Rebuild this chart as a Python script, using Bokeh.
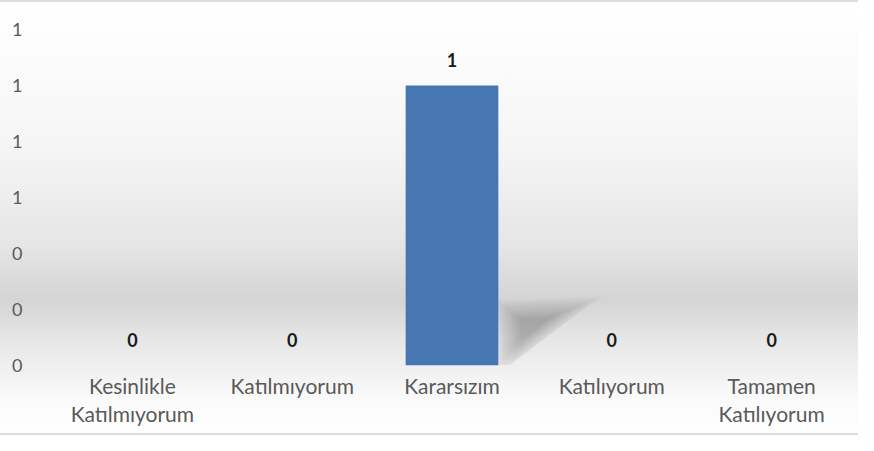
from bokeh.plotting import figure
from bokeh.models import ColumnDataSource, Range1d, FactorRange, FixedTicker, NumeralTickFormatter, LabelSet, CategoricalAxis
from bokeh.core.properties import value
from bokeh.embed import file_html
from bokeh.resources import INLINE

categories = ["Kesinlikle Katılmıyorum", "Katılmıyorum", "Kararsızım", "Katılıyorum", "Tamamen Katılıyorum"]
label_line1 = ["Kesinlikle", "Katılmıyorum", "Kararsızım", "Katılıyorum", "Tamamen"]
label_line2 = ["Katılmıyorum", " ", "  ", "   ", "Katılıyorum"]
values = [0, 0, 1, 0, 0]
y_ticks = [0, 0.2, 0.4, 0.6, 0.8, 1.0, 1.2]

src = ColumnDataSource(dict(cat=categories, val=values, lab=[str(v) for v in values]))

p = figure(width=858, height=435, x_range=FactorRange(*categories), y_range=Range1d(0, 1.2),
           output_backend="svg", toolbar_location=None,
           min_border_left=52, min_border_right=7, min_border_top=27, min_border_bottom=72)
p.styles = {"background": "linear-gradient(to bottom, #ffffff 0%, #fcfcfc 12%, #f5f5f5 34%, #e5e5e5 57%, #d4d4d4 69%, #e6e6e6 78%, #fafafa 92%, #ffffff 100%)",
            "border-top": "2px solid #dcdcdc", "border-bottom": "2px solid #dcdcdc"}
p.background_fill_color = None
p.border_fill_color = None
p.outline_line_color = None
p.xgrid.grid_line_color = None
p.ygrid.grid_line_color = None

# soft shadow behind bars (derived from bar values)
half = 0.29
scales = [1.12, 1.04, 0.96, 0.88, 0.8, 0.72, 0.64, 0.56, 0.48, 0.4, 0.32]
for s in scales:
    xs, ys = [], []
    for c, v in zip(categories, values):
        if v <= 0:
            continue
        h = v * 0.235
        pts = [(half, 0.0), (half, h * 0.95), (half + 0.6, h), (half + 0.08, 0.0)]
        cx = half + 0.2
        cy = h * 0.6
        xs.append([(c, max(half, cx + (q[0] - cx) * s)) for q in pts])
        ys.append([max(0.0, cy + (q[1] - cy) * s) for q in pts])
    p.patches(xs=xs, ys=ys, fill_color="#000000", fill_alpha=0.025, line_color=None)

p.vbar(x="cat", top="val", width=0.58, source=src, fill_color="#4677b3", line_color=None)

labels = LabelSet(x="cat", y="val", text="lab", source=src, text_align="center", text_baseline="bottom",
                  y_offset=19, text_font=value("Lato"), text_font_style="bold", text_font_size="18px",
                  text_color="#1a1a1a")
p.add_layout(labels)

p.yaxis.ticker = FixedTicker(ticks=y_ticks)
p.yaxis.formatter = NumeralTickFormatter(format="0")
p.yaxis.axis_line_color = None
p.yaxis.major_tick_line_color = None
p.yaxis.minor_tick_line_color = None
p.yaxis.major_tick_out = 0
p.yaxis.major_label_standoff = 30
p.yaxis.major_label_text_font = "Lato"
p.yaxis.major_label_text_font_size = "18px"
p.yaxis.major_label_text_color = "#595959"

p.xaxis.visible = False
p.extra_x_ranges = {"l1": FactorRange(*label_line1), "l2": FactorRange(*label_line2)}

def style_x(ax, standoff, lh):
    ax.axis_line_color = None
    ax.major_tick_line_color = None
    ax.major_tick_out = 0
    ax.major_tick_in = 0
    ax.major_label_standoff = standoff
    ax.major_label_text_font = "Lato"
    ax.major_label_text_font_size = "21px"
    ax.major_label_text_color = "#595959"
    ax.major_label_text_line_height = lh

ax1 = CategoricalAxis(x_range_name="l1")
style_x(ax1, 7, 0.9)
p.add_layout(ax1, "below")
ax2 = CategoricalAxis(x_range_name="l2")
style_x(ax2, 0, 0.9)
p.add_layout(ax2, "below")

open("out.html", "w").write(file_html(p, INLINE))
